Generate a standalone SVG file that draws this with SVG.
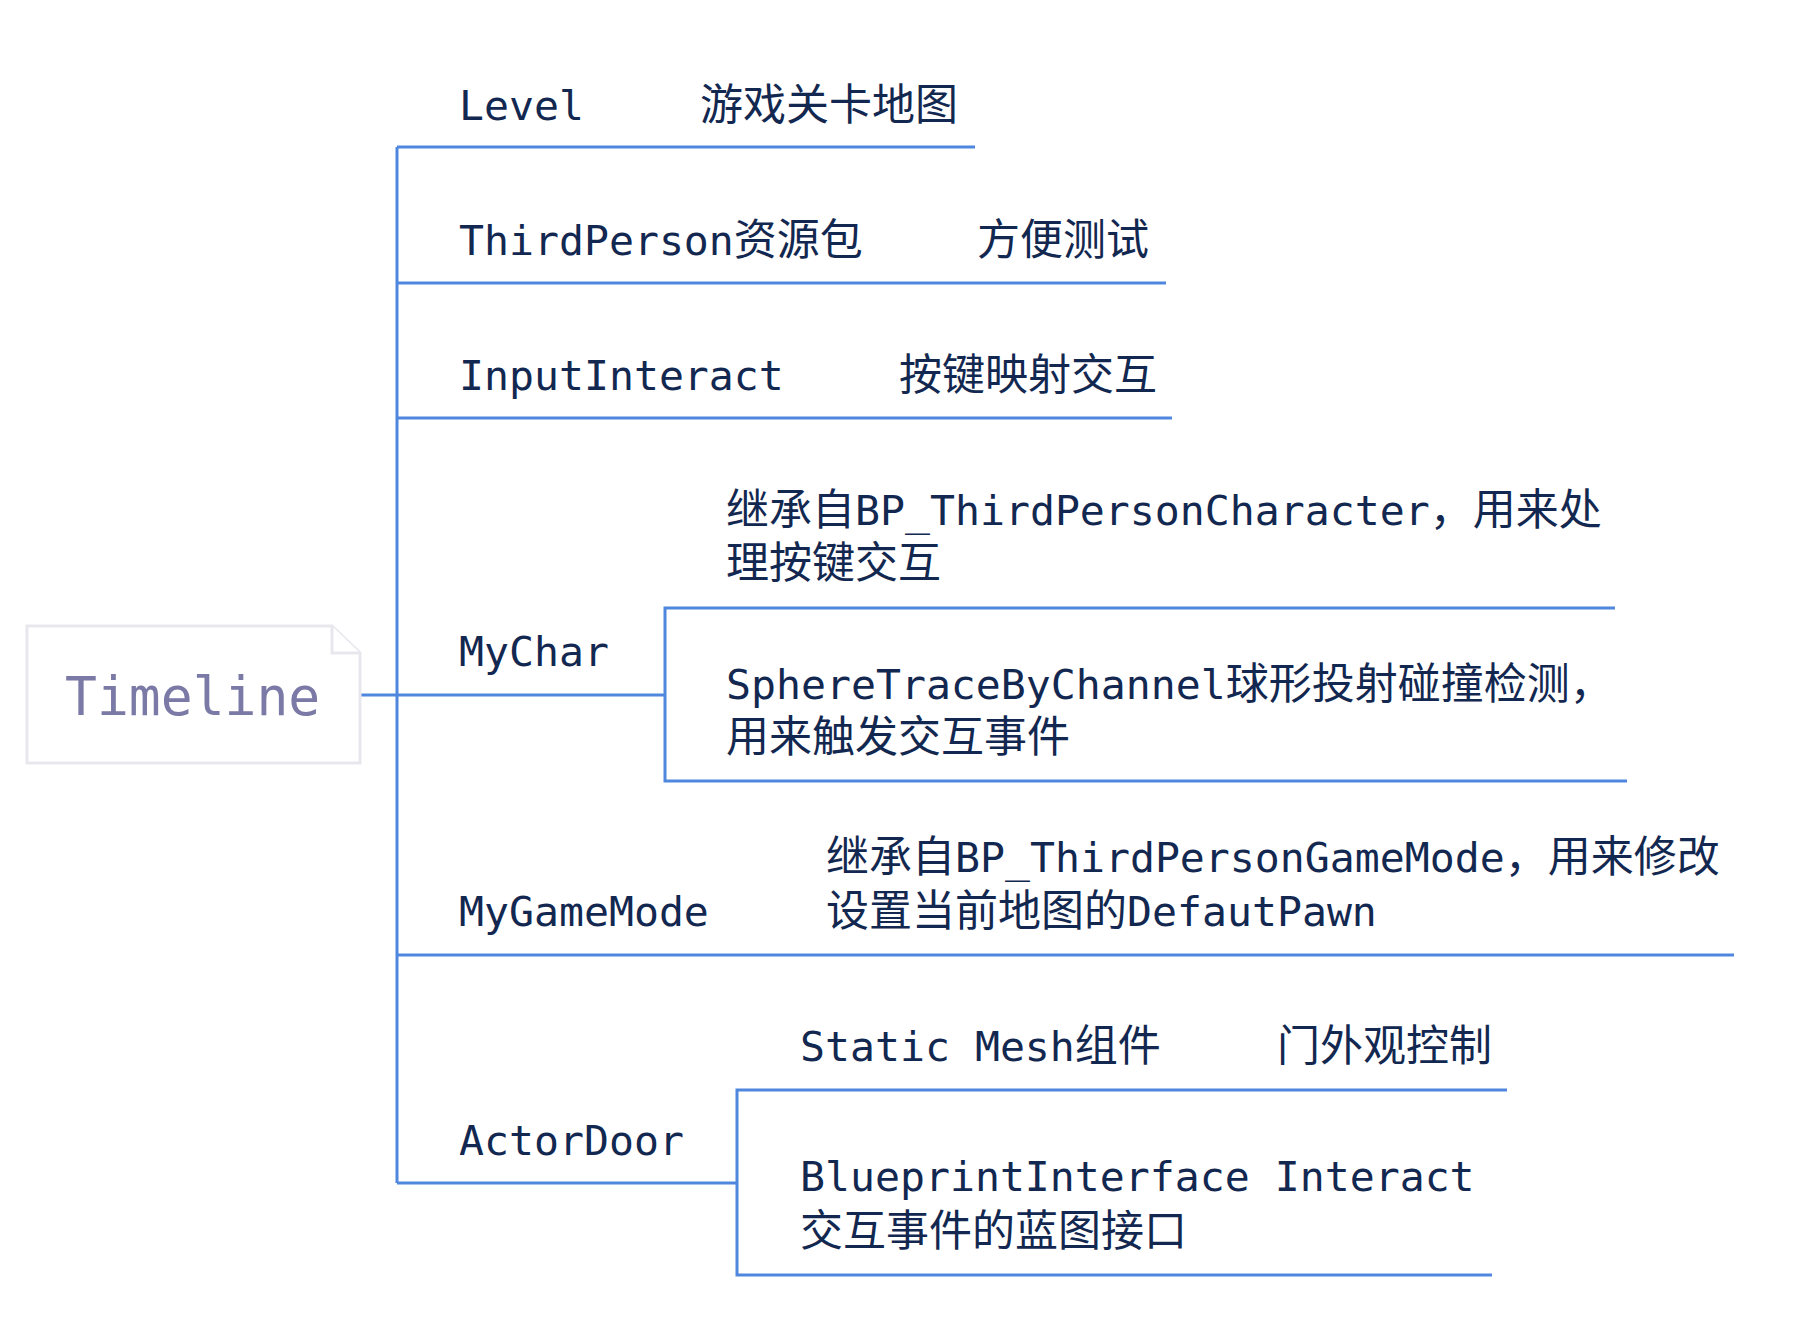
<svg xmlns="http://www.w3.org/2000/svg" width="1809" height="1332" viewBox="0 0 1809 1332">
<style>
.t{font-family:"DejaVu Sans Mono","Noto Sans CJK SC",monospace;font-size:41.5px;fill:#132850}
.c{font-family:"Noto Sans CJK SC",sans-serif;font-size:43px}
.root{font-family:"DejaVu Sans Mono","Noto Sans CJK SC",monospace;font-size:53px;fill:#7b79a6}
.ln{fill:none;stroke:#4e87dd;stroke-width:3}
.box{fill:#fff;stroke:#e9e7ee;stroke-width:3}
</style>
<rect width="1809" height="1332" fill="#fff"/>
<g id="connectors">
<path class="ln" d="M360,695 H397"/>
<path class="ln" d="M397,147 V1183"/>
<path class="ln" d="M397,147 H975"/>
<path class="ln" d="M397,283 H1166"/>
<path class="ln" d="M397,418 H1172"/>
<path class="ln" d="M397,695 H665"/>
<path class="ln" d="M1615,608 H665 V781 H1627"/>
<path class="ln" d="M397,955 H1734"/>
<path class="ln" d="M397,1183 H737"/>
<path class="ln" d="M1507,1090 H737 V1275 H1492"/>
</g>
<g id="timeline">
<path class="box" d="M27,626 H332 L360,653 V763 H27 Z"/>
<path class="box" d="M332,626 V653 H360"/>
<text class="root" x="65" y="715">Timeline</text>
</g>
<g id="level">
<text class="t" x="459" y="120">Level</text>
<text class="t" x="700" y="120"><tspan class="c">游戏关卡地图</tspan></text>
</g>
<g id="thirdperson">
<text class="t" x="459" y="255">ThirdPerson<tspan class="c">资源包</tspan></text>
<text class="t" x="977" y="255"><tspan class="c">方便测试</tspan></text>
</g>
<g id="inputinteract">
<text class="t" x="459" y="390">InputInteract</text>
<text class="t" x="899" y="390"><tspan class="c">按键映射交互</tspan></text>
</g>
<g id="mychar">
<text class="t" x="459" y="666">MyChar</text>
</g>
<g id="mychar-inherit">
<text class="t" x="726" y="525"><tspan class="c">继承自</tspan>BP_ThirdPersonCharacter<tspan class="c">，用来处</tspan><tspan class="c" x="726" y="578">理按键交互</tspan></text>
</g>
<g id="mychar-trace">
<text class="t" x="726" y="699">SphereTraceByChannel<tspan class="c">球形投射碰撞检测，</tspan><tspan class="c" x="726" y="752">用来触发交互事件</tspan></text>
</g>
<g id="mygamemode">
<text class="t" x="459" y="926">MyGameMode</text>
<text class="t" x="826" y="872"><tspan class="c">继承自</tspan>BP_ThirdPersonGameMode<tspan class="c">，用来修改</tspan><tspan class="c" x="826" y="926">设置当前地图的</tspan>DefautPawn</text>
</g>
<g id="actordoor">
<text class="t" x="459" y="1155">ActorDoor</text>
</g>
<g id="staticmesh">
<text class="t" x="800" y="1061">Static Mesh<tspan class="c">组件</tspan></text>
<text class="t" x="1277" y="1061"><tspan class="c">门外观控制</tspan></text>
</g>
<g id="blueprintinterface">
<text class="t" x="800" y="1191">BlueprintInterface Interact<tspan class="c" x="800" y="1246">交互事件的蓝图接口</tspan></text>
</g>
</svg>
